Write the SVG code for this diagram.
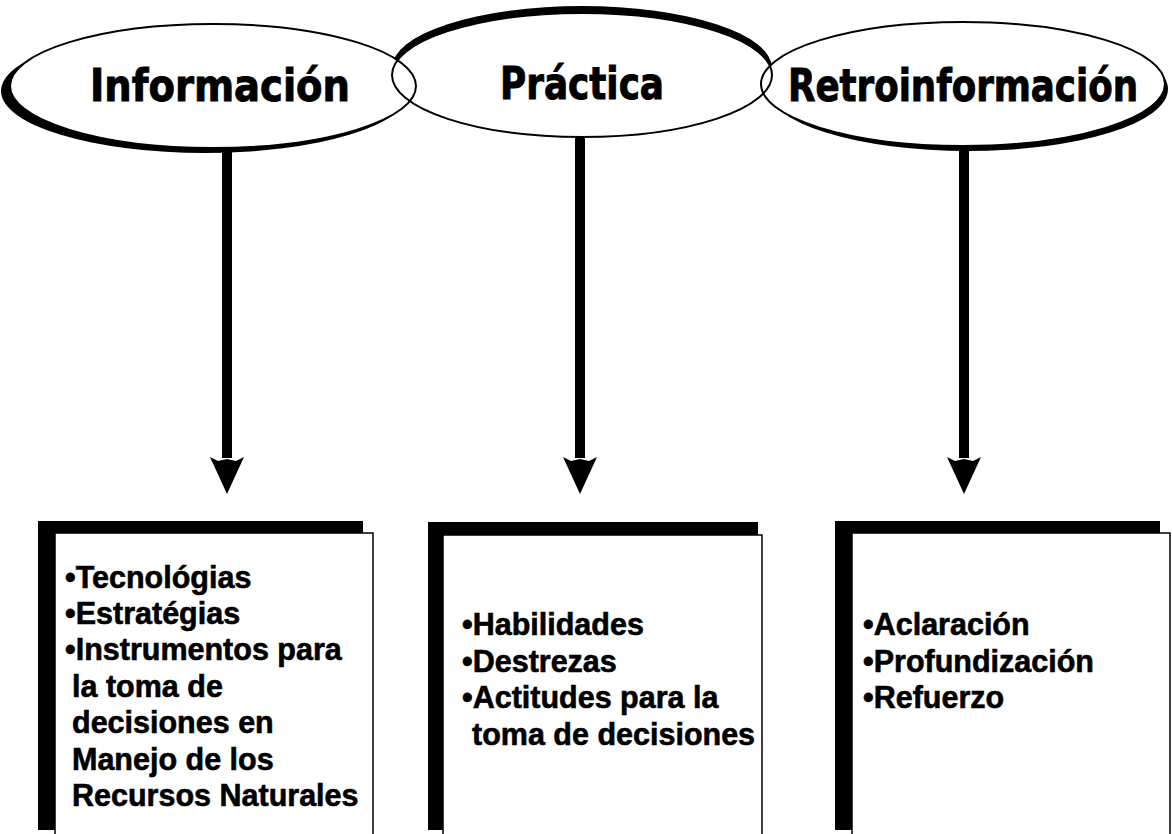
<svg xmlns="http://www.w3.org/2000/svg" width="1172" height="834" viewBox="0 0 1172 834">
<style>
.bg{fill:#fff}
.crescent{fill:#000}
.efill{fill:#fff;stroke:none}
.eline{fill:none;stroke:#000;stroke-width:2}
.head{font-family:"DejaVu Sans","Liberation Sans",sans-serif;font-weight:bold;font-size:44px;fill:#000;stroke:#000;stroke-width:1}
.body{font-family:"Liberation Sans",Arial,sans-serif;font-weight:bold;font-size:30.5px;fill:#000;stroke:#000;stroke-width:0.6}
.shadow{fill:#000}
.panel{fill:#fff;stroke:#000;stroke-width:1.5}
.shaft{stroke:#000;stroke-width:10;fill:none}
</style>
<defs>
<marker id="ah" markerUnits="userSpaceOnUse" markerWidth="44" markerHeight="40" refX="3" refY="20" orient="auto" viewBox="0 0 44 40">
<path d="M2,3 L6,11 L4,20 L6,29 L2,37 L39,20 Z" fill="#000"/>
</marker>
</defs>
<rect class="bg" x="0" y="0" width="1172" height="834"/>

<g id="ellipse-shadows">
<ellipse class="crescent" cx="205" cy="91" rx="204" ry="62"/>
<ellipse class="crescent" cx="582" cy="68" rx="190" ry="62"/>
<ellipse class="crescent" cx="968" cy="89" rx="200" ry="62"/>
</g>

<g id="connectors">
<line class="shaft" x1="227" y1="148" x2="227" y2="458" marker-end="url(#ah)"/>
<line class="shaft" x1="580" y1="137" x2="580" y2="458" marker-end="url(#ah)"/>
<line class="shaft" x1="964" y1="146" x2="964" y2="458" marker-end="url(#ah)"/>
</g>

<g id="node-informacion">
<ellipse class="efill" cx="213" cy="86" rx="203" ry="62"/>
</g>
<g id="node-practica">
<ellipse class="efill" cx="582" cy="75" rx="190" ry="62"/>
</g>
<g id="node-retroinformacion">
<ellipse class="efill" cx="963" cy="84" rx="202" ry="62"/>
</g>
<g id="ellipse-outlines">
<ellipse class="eline" cx="213" cy="86" rx="203" ry="62"/>
<ellipse class="eline" cx="582" cy="75" rx="190" ry="62"/>
<ellipse class="eline" cx="963" cy="84" rx="202" ry="62"/>
</g>
<g id="heading-labels">
<text class="head" x="90" y="101" textLength="260" lengthAdjust="spacingAndGlyphs">Información</text>
<text class="head" x="500" y="99" textLength="164" lengthAdjust="spacingAndGlyphs">Práctica</text>
<text class="head" x="788" y="101" textLength="350" lengthAdjust="spacingAndGlyphs">Retroinformación</text>
</g>

<g id="box-informacion">
<rect class="shadow" x="38" y="521" width="325" height="309"/>
<rect class="panel" x="55" y="533" width="318" height="310"/>
<text class="body" x="65" y="588">•Tecnológias</text>
<text class="body" x="65" y="624">•Estratégias</text>
<text class="body" x="65" y="660">•Instrumentos para</text>
<text class="body" x="72" y="697">la toma de</text>
<text class="body" x="72" y="733">decisiones en</text>
<text class="body" x="72" y="770">Manejo de los</text>
<text class="body" x="72" y="806">Recursos Naturales</text>
</g>

<g id="box-practica">
<rect class="shadow" x="428" y="522" width="330" height="308"/>
<rect class="panel" x="443" y="535" width="319" height="310"/>
<text class="body" x="462" y="635">•Habilidades</text>
<text class="body" x="462" y="672">•Destrezas</text>
<text class="body" x="462" y="708">•Actitudes para la</text>
<text class="body" x="472" y="745">toma de decisiones</text>
</g>

<g id="box-retroinformacion">
<rect class="shadow" x="835" y="521" width="325" height="309"/>
<rect class="panel" x="852" y="533" width="318" height="310"/>
<text class="body" x="863" y="635">•Aclaración</text>
<text class="body" x="863" y="672">•Profundización</text>
<text class="body" x="863" y="708">•Refuerzo</text>
</g>
</svg>
